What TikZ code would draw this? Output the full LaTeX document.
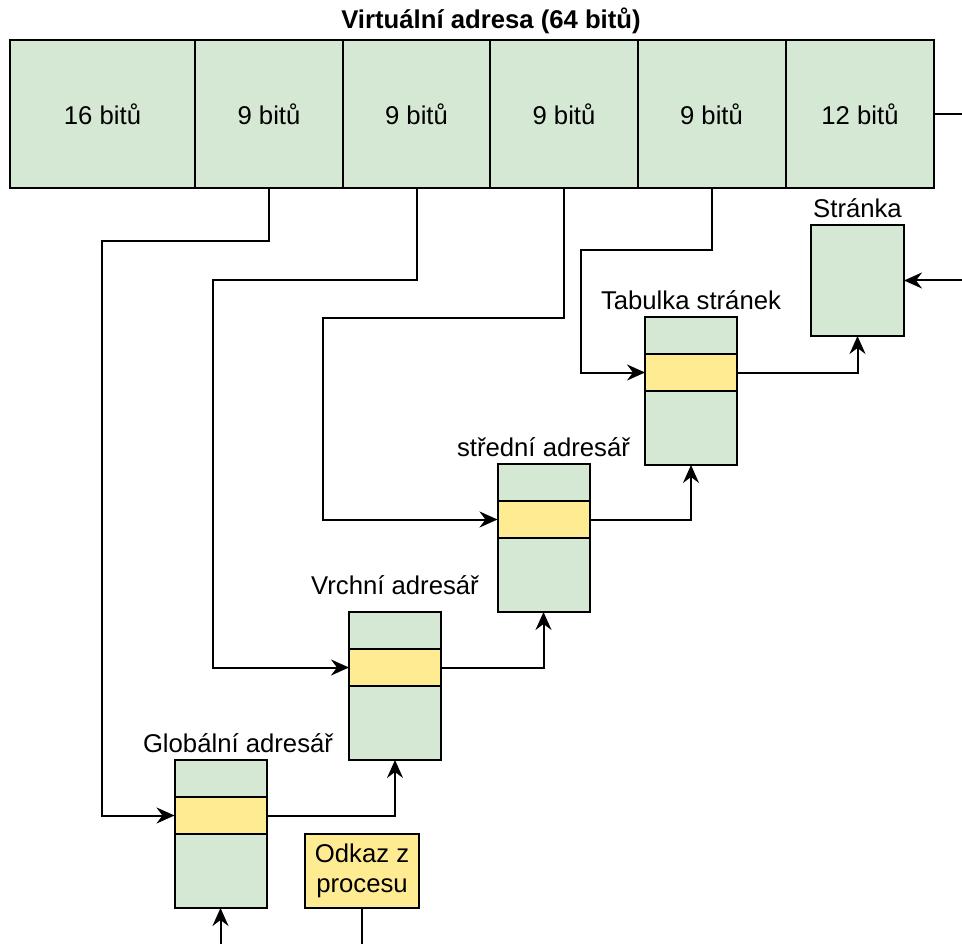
\documentclass[tikz,border=0pt]{standalone}
\usepackage{fontspec}
\setmainfont{Liberation Sans}
\usetikzlibrary{arrows.meta}

\definecolor{cellgreen}{HTML}{D5E8D4}
\definecolor{bandyellow}{HTML}{FFEB91}

\begin{document}
\begin{tikzpicture}[x=1pt,y=-1pt,
  font=\fontsize{25.7}{30}\selectfont,
  every node/.style={inner sep=0pt, outer sep=0pt},
  bitcell/.style={draw, line width=2pt, fill=cellgreen, minimum width=148pt, minimum height=148pt},
  tablebox/.style={draw, line width=2pt, fill=cellgreen, minimum width=92pt, minimum height=148pt},
  entryband/.style={draw, line width=2pt, fill=bandyellow, minimum width=92pt, minimum height=37pt},
  pagebox/.style={draw, line width=2pt, fill=cellgreen, minimum width=93pt, minimum height=111pt},
  refbox/.style={draw, line width=2pt, fill=bandyellow, minimum width=114pt, minimum height=74pt, align=center},
  boxlabel/.style={anchor=south},
  link/.style={line width=2pt},
  arr/.style={line width=2pt, -{Stealth[length=18pt, width=16pt, inset=6pt]}}
]
\useasboundingbox (0,0) rectangle (962,944);

% title
\node[font=\fontsize{25.7}{30}\selectfont\bfseries] (title) at (491,21) {Virtuální adresa (64 bitů)};

% the six fields of the virtual address
\node[bitcell, minimum width=185pt] (c0) at (102.5,114) {16 bitů};
\node[bitcell] (c1) at (269,114) {9 bitů};
\node[bitcell] (c2) at (416.5,114) {9 bitů};
\node[bitcell] (c3) at (564,114) {9 bitů};
\node[bitcell] (c4) at (711.5,114) {9 bitů};
\node[bitcell] (c5) at (860,114) {12 bitů};

% page
\node[pagebox] (page) at (857.5,280.5) {};
\node[boxlabel] (pagelbl) at ([yshift=7pt]page.north) {Stránka};

% page table
\node[tablebox] (pt) at (691,391) {};
\node[entryband] (ptband) at (691,372.5) {};
\node[boxlabel] (ptlbl) at ([yshift=7pt]pt.north) {Tabulka stránek};

% middle directory
\node[tablebox] (md) at (543.5,538) {};
\node[entryband] (mdband) at (543.5,519.5) {};
\node[boxlabel] (mdlbl) at ([yshift=7pt]md.north) {střední adresář};

% upper directory
\node[tablebox] (ud) at (395,686) {};
\node[entryband] (udband) at (395,667.5) {};
\node[boxlabel] (udlbl) at ([yshift=17pt]ud.north) {Vrchní adresář};

% global directory
\node[tablebox] (gd) at (220.5,834) {};
\node[entryband] (gdband) at (220.5,815.5) {};
\node[boxlabel] (gdlbl) at ([xshift=17.5pt,yshift=7pt]gd.north) {Globální adresář};

% reference from the process
\node[refbox] (proc) at (362,871) {Odkaz z\\procesu};

% loose ends running off the edges
\coordinate (offR1) at (962,114);
\coordinate (offR2) at (962,280.5);
\coordinate (offB1) at (220.5,944);
\coordinate (offB2) at (362,944);

% index fields to the directory entries
\draw[arr] (c1.south) |- (102,241) |- (gdband.west);
\draw[arr] (c2.south) |- (213,280) |- (udband.west);
\draw[arr] (c3.south) |- (323,318) |- (mdband.west);
\draw[arr] (c4.south) |- (581,250) |- (ptband.west);

% entry to next level
\draw[arr] (gdband.east) -| (ud.south);
\draw[arr] (udband.east) -| (md.south);
\draw[arr] (mdband.east) -| (pt.south);
\draw[arr] (ptband.east) -| (page.south);

% offset and outside connections
\draw[link] (c5.east) -- (offR1);
\draw[arr] (offR2) -- (page.east);
\draw[arr] (offB1) -- (gd.south);
\draw[link] (proc.south) -- (offB2);
\end{tikzpicture}
\end{document}
